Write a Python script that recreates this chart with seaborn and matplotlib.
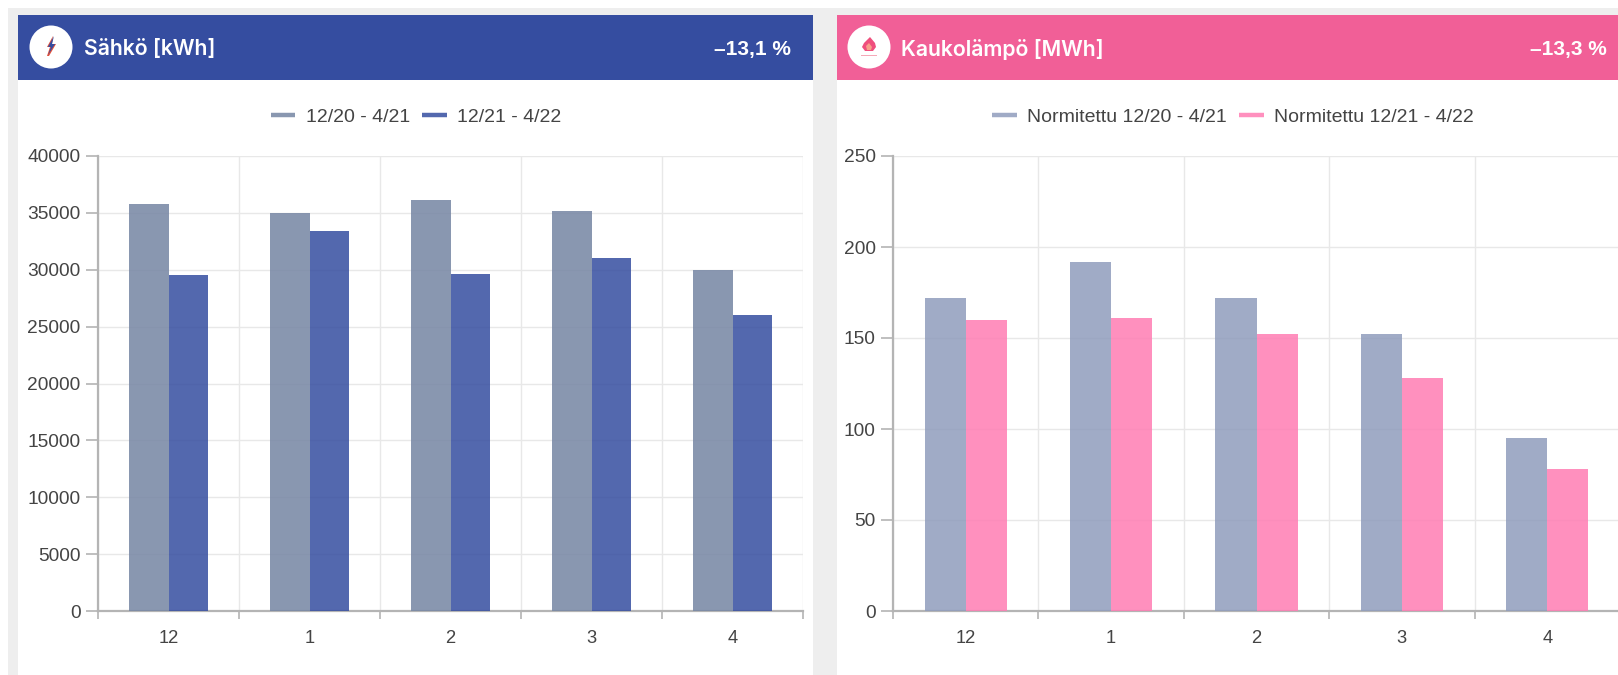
import matplotlib
matplotlib.use("Agg")
import matplotlib.pyplot as plt
from matplotlib.lines import Line2D
from matplotlib.patches import Circle, Polygon, Rectangle
import pandas as pd
import seaborn as sns

months = ["12", "1", "2", "3", "4"]

power_title = "Sähkö [kWh]"
power_change = "–13,1 %"
power_periods = ["12/20 - 4/21", "12/21 - 4/22"]
power_previous = [35800, 35000, 36100, 35200, 30000]
power_current = [29500, 33400, 29600, 31000, 26000]
power_ticks = [0, 5000, 10000, 15000, 20000, 25000, 30000, 35000, 40000]

heat_title = "Kaukolämpö [MWh]"
heat_change = "–13,3 %"
heat_periods = ["Normitettu 12/20 - 4/21", "Normitettu 12/21 - 4/22"]
heat_previous = [172, 192, 172, 152, 95]
heat_current = [160, 161, 152, 128, 78]
heat_ticks = [0, 50, 100, 150, 200, 250]

W, H = 1618, 675
BAR_ALPHA = 0.85
TEXT = "#444444"
AXIS = "#b4b4b4"
GRID = "#e8e8e8"

sns.set_theme(style="white")
plt.rcParams["font.family"] = ["Liberation Sans", "DejaVu Sans"]

fig = plt.figure(figsize=(W / 100, H / 100), dpi=100, facecolor="white")

# Dashboard chrome, laid out in pixel units
page = fig.add_axes([0, 0, 1, 1], zorder=0)
page.set_xlim(0, W)
page.set_ylim(H, 0)
page.axis("off")
page.add_patch(Rectangle((8, 8), W - 8, H - 8, color="#eeeeee", lw=0))


def draw_card(left, right, colour, title, change, title_x, change_x, icon_x):
    page.add_patch(Rectangle((left, 15), right - left, H - 15, color="white", lw=0))
    page.add_patch(Rectangle((left, 15), right - left, 65, color=colour, lw=0))
    page.add_patch(Circle((icon_x, 47), 21.5, color="white", lw=0))
    page.text(title_x, 49, title, color="white", family="Inter", weight="semibold",
              fontsize=15.3, va="center", ha="left")
    page.text(change_x, 49, change, color="white", family="Liberation Sans", weight="bold",
              fontsize=15, va="center", ha="right")


draw_card(18, 813, "#354da0", power_title, power_change, 84, 791, 51)
draw_card(837, W, "#f15f97", heat_title, heat_change, 901, 1607, 869)

# Lightning bolt icon
page.add_patch(Polygon([(53, 36), (47, 47), (50, 47), (47, 56), (49, 56), (56, 44), (52, 44)],
                       color="#e0503c", lw=0))
page.add_patch(Polygon([(54, 36), (48, 47), (51, 47), (48, 55), (55, 44), (52, 44)],
                       color="#354da0", lw=0))

# Flame icon
page.add_patch(Polygon([(870, 37), (875, 43), (876, 47), (873, 51), (865, 51), (862, 47), (864, 43)],
                       color="#ef4f7d", lw=0))
page.add_patch(Polygon([(866, 46), (869, 43), (872, 47), (871, 50), (867, 50)],
                       color="#f7a08a", lw=0))
page.add_patch(Rectangle((861, 55), 16, 1.4, color="#f5a9b8", lw=0))


def draw_chart(x0, x1, previous, current, periods, colours, ticks, legend_x):
    ax = fig.add_axes([x0 / W, 1 - 611 / H, (x1 - x0) / W, (611 - 156) / H], zorder=2)
    ax.patch.set_alpha(0)
    table = pd.DataFrame({
        "month": months * 2,
        "value": previous + current,
        "period": [periods[0]] * len(months) + [periods[1]] * len(months),
    })
    sns.barplot(data=table, x="month", y="value", hue="period", order=months,
                hue_order=periods, palette=colours, width=0.565, gap=0, alpha=BAR_ALPHA,
                saturation=1, errorbar=None, legend=False, linewidth=0, ax=ax, zorder=3)
    ax.set_xlim(-0.5, len(months) - 0.5)
    ax.set_ylim(ticks[0], ticks[-1])
    ax.set_yticks(ticks)
    ax.set_xlabel("")
    ax.set_ylabel("")

    # Grid and tick marks sit on the category boundaries
    edges = [i - 0.5 for i in range(len(months) + 1)]
    ax.set_xticks(edges, minor=True)
    ax.tick_params(axis="x", which="major", bottom=False, length=0, pad=14, labelsize=13.2, labelcolor=TEXT)
    ax.tick_params(axis="x", which="minor", bottom=True, length=6, width=1.2, color=AXIS)
    ax.tick_params(axis="y", left=True, length=9, width=1.2, color=AXIS, pad=3.5, labelsize=13.8, labelcolor=TEXT)
    ax.grid(True, axis="y", color=GRID, lw=1.0, zorder=1)
    ax.grid(True, axis="x", which="minor", color=GRID, lw=1.0, zorder=1)
    ax.grid(False, axis="x", which="major")
    ax.set_axisbelow(True)
    sns.despine(ax=ax, top=True, right=True)
    for side in ("left", "bottom"):
        ax.spines[side].set_color(AXIS)
        ax.spines[side].set_linewidth(1.6)

    handles = [Line2D([], [], color=c, lw=3.2, alpha=BAR_ALPHA, solid_capstyle="butt") for c in colours]
    ax.legend(handles, periods, ncol=2, frameon=False, fontsize=14, labelcolor=TEXT,
              handlelength=1.27, handletextpad=0.53, columnspacing=0.63,
              loc="center", bbox_to_anchor=(legend_x / W, 1 - 117 / H),
              bbox_transform=fig.transFigure, borderpad=0, borderaxespad=0)


draw_chart(98, 803, power_previous, power_current, power_periods,
           ["#7585a3", "#354da0"], power_ticks, 416)
draw_chart(893, 1620, heat_previous, heat_current, heat_periods,
           ["#8f9cbc", "#ff7db3"], heat_ticks, 1233)

fig.savefig("out.png", dpi=100)
